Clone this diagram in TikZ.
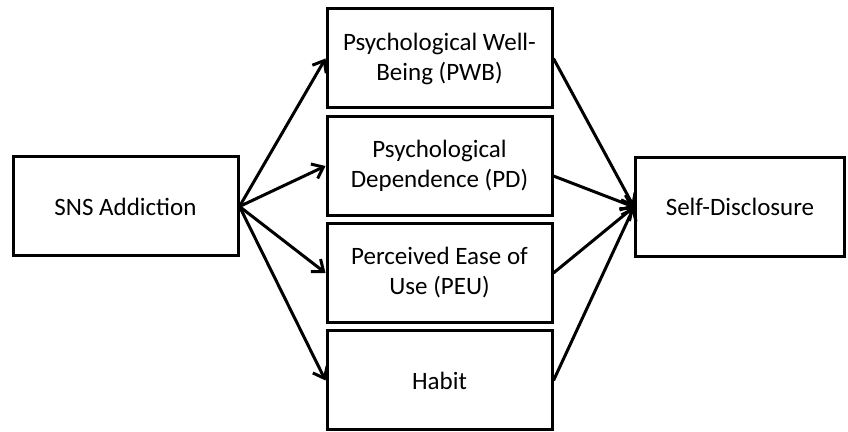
\documentclass[tikz,border=0pt]{standalone}
\usepackage{fontspec}
\setmainfont{Carlito}
\usetikzlibrary{arrows.meta}
\newdimen\unitsize
\setlength{\unitsize}{0.5pt}

\begin{document}
\begin{tikzpicture}[x=\unitsize,y=-\unitsize,
  box/.style={draw,line width=1.5pt,align=center,inner sep=0pt,
    minimum width=225\unitsize,minimum height=99\unitsize,
    font=\fontsize{12.5}{15}\selectfont},
  link/.style={line width=1.5pt,-{Straight Barb[length=5pt,width=8pt]}}]
\useasboundingbox (0,0) rectangle (848,432);
\node[box] (sns) at (125.5,206.5) {SNS Addiction};
\node[box] (pwb) at (439.5,58.5) {Psychological Well-\\Being (PWB)};
\node[box] (pd) at (439.5,166) {Psychological\\Dependence (PD)};
\node[box] (peu) at (439.5,273) {Perceived Ease of\\Use (PEU)};
\node[box] (habit) at (439.5,380.5) {Habit};
\node[box,minimum width=209\unitsize] (sd) at (740,207) {Self-Disclosure};
\foreach \midnode/\outshift in {pwb/0,pd/-5,peu/0,habit/0}{
  \draw[link] (sns.east) -- (\midnode.west);
  \draw[link] ([yshift=\outshift pt]\midnode.east) -- (sd.west);
}
\end{tikzpicture}
\end{document}
